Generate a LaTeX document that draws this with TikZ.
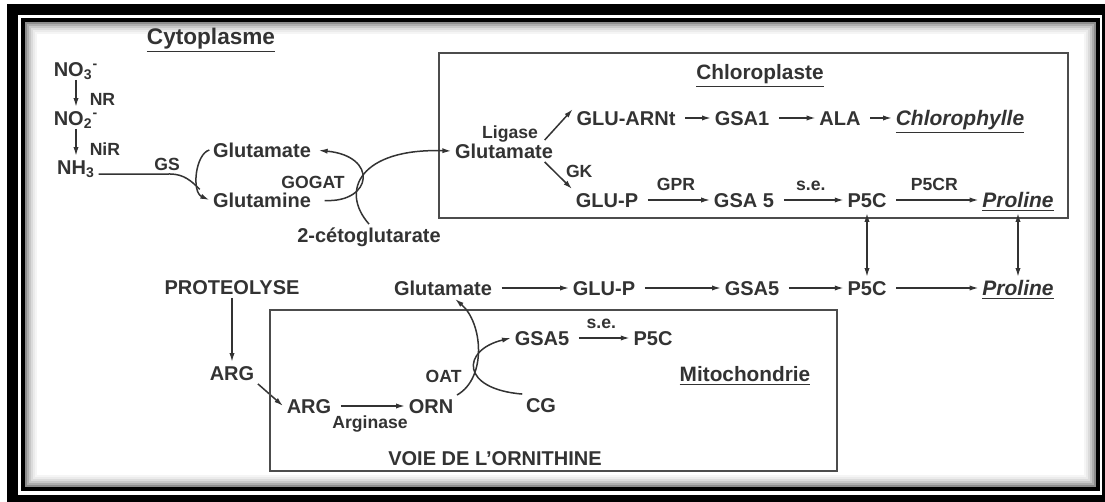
\documentclass[tikz,border=0pt]{standalone}
\usepackage{fontspec}
\setmainfont{Liberation Sans}
\usetikzlibrary{arrows.meta,positioning}
\tikzstyle{met} = [font=\fontsize{10}{12}\selectfont\bfseries, inner sep=1.5pt,
    text height=7.2pt, text depth=0pt]
\tikzstyle{enz} = [font=\fontsize{8.8}{10}\selectfont\bfseries, inner sep=1.5pt,
    text height=6.3pt, text depth=0pt]
\tikzstyle{comptitle} = [met, font=\fontsize{10.4}{12}\selectfont\bfseries]
\tikzstyle{prod} = [met, font=\fontsize{10.5}{12}\selectfont\bfseries\itshape]
\tikzstyle{compart} = [draw=black!70, line width=0.8pt]
\begin{document}
\begin{tikzpicture}[x=0.5pt,y=-0.5pt,>={Latex[length=4.5pt,width=2.6pt]},
                    line width=0.75pt,color=black!80,node distance=24.5pt]
  \useasboundingbox (0,0) rectangle (1105,502);
  % frame
  \fill[black] (7,4) rectangle (1105,502);
  \fill[white] (18,15) rectangle (1102,495);
  \fill[black] (21,18) rectangle (1100,491);
  \fill[white] (25,22) rectangle (1096,487);
  \foreach \k/\g in {0/45,1/32,2/22,3/14,4/8,5/4}
    \draw[black!\g, line width=1pt] (26+2*\k,23+2*\k) rectangle (1095-2*\k,486-2*\k);

  % cytoplasme
  \node[comptitle, font=\fontsize{11.3}{13}\selectfont\bfseries] (cyto) at (211,37) {\underline{Cytoplasme}};
  \node[met] (no3) at (76,69) {NO\textsubscript{3}\textsuperscript{-}};
  \node[met, below of=no3] (no2) {NO\textsubscript{2}\textsuperscript{-}};
  \node[met, below of=no2] (nh3) {NH\textsubscript{3}};
  \node[met] (glu1) at (262,150) {Glutamate};
  \node[met] (gln) at (262,200) {Glutamine};
  \node[met] (cetog) at (369,235) {2-cétoglutarate};
  \coordinate (gsbend) at (170,174);

  \draw[->] (no3) -- node[enz, right, xshift=5pt, yshift=-3pt] (nr) {NR} (no2);
  \draw[->] (no2) -- node[enz, right, xshift=5pt, yshift=-3.5pt] (nir) {NiR} (nh3);
  \draw[->] (glu1.west) .. controls +(-14,4) and +(-18,-8) .. (gln.west)
        coordinate[pos=0.75] (gsjoin);
  \draw (nh3.base east) -- node[enz, above, pos=0.96] (gs) {GS} (gsbend)
        .. controls +(14,0) and +(-8,-8) .. (gsjoin);
  \draw[->, shorten <=5pt, shorten >=2pt] (gln.east) .. controls +(58,3) and +(64,6) .. (glu1.east)
        node[enz, pos=0.5, left=6pt, yshift=-2pt] (gogat) {GOGAT};

  % chloroplaste
  \draw[compart] (439,53) rectangle (1068,218);
  \node[comptitle] (chlt) at (760,72) {\underline{Chloroplaste}};
  \node[met] (glu2) at (504,151) {Glutamate};
  \node[enz, above=-1pt of glu2, xshift=3pt] (ligase) {Ligase};
  \node[met] (gluarnt) at (626,118) {GLU-ARNt};
  \node[met] (gsa1) at (742,118) {GSA1};
  \node[met] (ala) at (840,118) {ALA};
  \node[prod] (chl) at (960,118) {\underline{Chlorophylle}};
  \node[met] (glup1) at (607,200) {GLU-P};
  \node[met] (gsa5a) at (744,200) {GSA 5};
  \node[met] (p5c1) at (867,200) {P5C};
  \node[prod] (pro1) at (1018,200) {\underline{Proline}};

  \draw[->] (cetog.north) .. controls +(-30,-34) and +(-90,-3) .. (glu2.west);
  \draw[->] ([xshift=-6pt]glu2.north east) -- ([yshift=-1pt]gluarnt.north west);
  \draw[->] ([xshift=-6pt]glu2.south east) -- node[enz, right=4pt, pos=0.35] (gk) {GK} (glup1.north west);
  \path[->, shorten <=3pt]
        (gluarnt) edge (gsa1)
        (gsa1) edge (ala)
        (ala) edge (chl)
        (glup1) edge node[enz, above, yshift=3pt] (gpr) {GPR} (gsa5a)
        (gsa5a) edge node[enz, above, yshift=3pt] (se1) {s.e.} (p5c1)
        (p5c1) edge node[enz, above, yshift=3pt] (p5cr) {P5CR} (pro1);

  % voie du glutamate
  \node[met] (glu3) at (443,288) {Glutamate};
  \node[met] (glup2) at (604,288) {GLU-P};
  \node[met] (gsa5b) at (752,288) {GSA5};
  \node[met] (p5c2) at (867,288) {P5C};
  \node[prod] (pro2) at (1018,288) {\underline{Proline}};
  \path[->, shorten <=3pt] (glu3) edge (glup2)
        (glup2) edge (gsa5b)
        (gsa5b) edge (p5c2)
        (p5c2) edge (pro2);
  \path[<->, shorten <=1pt] (p5c1) edge (p5c2)
        (pro1) edge (pro2);

  % proteolyse
  \node[met] (proteo) at (232,287) {PROTEOLYSE};
  \node[met] (arg1) at (232,373) {ARG};
  \node[met] (arg2) at (309,406) {ARG};
  \node[met] (orn) at (431,406) {ORN};
  \draw[->] (proteo) -- (arg1);
  \draw[->] (arg1.south east) -- (arg2.west);
  \draw[->, shorten <=3pt] (arg2) -- node[enz, below, yshift=-3pt] (arginase) {Arginase} (orn);

  % mitochondrie
  \draw[compart] (270,310) rectangle (837,471);
  \node[met] (gsa5c) at (542,338) {GSA5};
  \node[met] (p5c3) at (653,338) {P5C};
  \node[met] (cg) at (541,405) {CG};
  \node[comptitle] (mitot) at (745,374) {\underline{Mitochondrie}};
  \node[met] (voie) at (495,458) {VOIE DE L'ORNITHINE};
  \draw[->, shorten <=3pt] (gsa5c) -- node[enz, above, yshift=3pt] (se2) {s.e.} (p5c3);
  \draw[->] (orn.north east) .. controls +(30,-17) and +(28,24) .. ([xshift=6pt]glu3.south)
        node[enz, pos=0.25, left=4pt] (oat) {OAT};
  \draw[->] (cg.north west) .. controls +(-62,-5) and +(-50,12) .. (gsa5c.west);
\end{tikzpicture}
\end{document}
